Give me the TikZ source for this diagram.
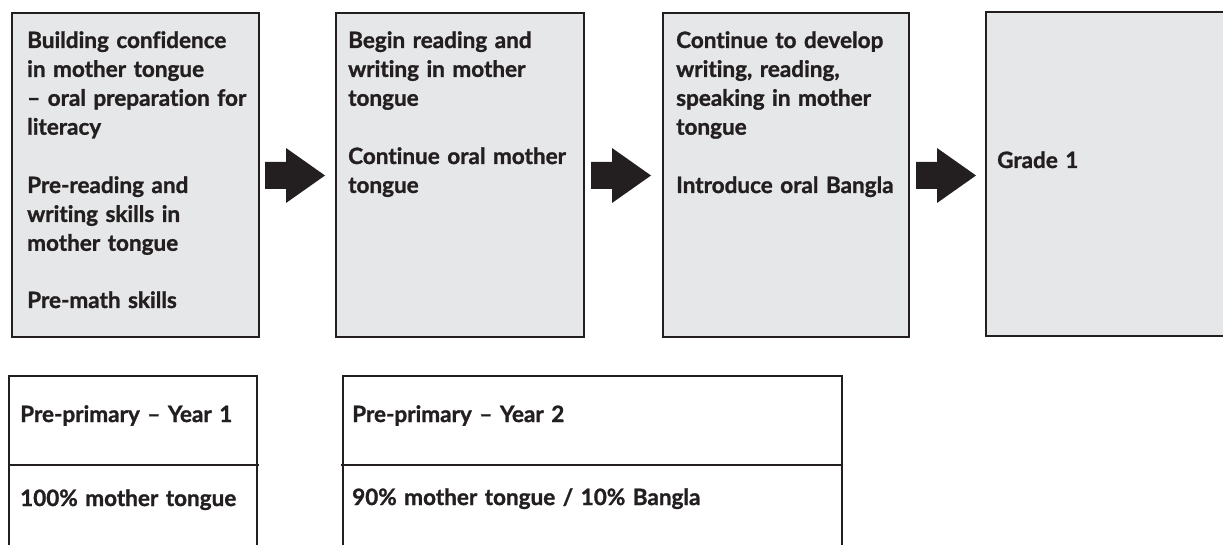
\documentclass[tikz,border=0pt]{standalone}
\usepackage{fontspec}
\setmainfont{Lato}[Ligatures=NoCommon, BoldFeatures={FakeBold=1.2}]
\definecolor{boxfill}{HTML}{E6E7E8}
\definecolor{ink}{HTML}{231F20}
\newcommand\blockarrow[1]{%
  \fill[ink, shift={(#1,0)}] (0,162) -- (21,162) -- (21,148) -- (60,175.5) -- (21,203) -- (21,189) -- (0,189) -- cycle;}
\begin{document}
\begin{tikzpicture}[x=1pt,y=-1pt,
  stagebox/.style={draw=ink, fill=boxfill, line width=2pt, inner sep=0pt, anchor=north west},
  lbl/.style={text=ink, font=\bfseries\fontsize{22.5}{28.9}\selectfont, align=left, text width=600pt, inner sep=0pt, anchor=base west},
  frame/.style={draw=ink, line width=2pt}]
\useasboundingbox (0,0) rectangle (1223,545);
% stage boxes
\node[stagebox, minimum width=247pt, minimum height=324pt] (s1) at (11,12) {};
\node[stagebox, minimum width=248pt, minimum height=324pt] (s2) at (335,12) {};
\node[stagebox, minimum width=246pt, minimum height=324pt] (s3) at (662,12) {};
\node[fill=boxfill, inner sep=0pt, anchor=north west, minimum width=240pt, minimum height=324pt] (s4) at (986,12) {};
\draw[frame] (s4.north east) -- (s4.north west) -- (s4.south west) -- (s4.south east);
% texts in stage boxes
\node[lbl] (t1a) at (27,48) {Building confidence\\in mother tongue\\– oral preparation for\\literacy};
\node[lbl] (t1b) at (27,193) {Pre-reading and\\writing skills in\\mother tongue};
\node[lbl] (t1c) at (27,308) {Pre-math skills};
\node[lbl] (t2a) at (348,48) {Begin reading and\\writing in mother\\tongue};
\node[lbl] (t2b) at (348,164) {Continue oral mother\\tongue};
\node[lbl] (t3a) at (676,48) {Continue to develop\\writing, reading,\\speaking in mother\\tongue};
\node[lbl] (t3b) at (676,193) {Introduce oral Bangla};
\node[lbl] (t4) at (997,168) {Grade 1};
% arrows
\blockarrow{265}
\blockarrow{591}
\blockarrow{916}
% bottom tables
\coordinate (aTL) at (9,376); \coordinate (aTR) at (257,376);
\coordinate (aBL) at (9,550); \coordinate (aBR) at (257,550);
\draw[frame] (aBL) -- (aTL) -- (aTR) -- (aBR);
\draw[frame] (9,465) -- (259,465);
\coordinate (bTL) at (343,376); \coordinate (bTR) at (842,376);
\coordinate (bBL) at (343,550); \coordinate (bBR) at (842,550);
\draw[frame] (bBL) -- (bTL) -- (bTR) -- (bBR);
\draw[frame] (341,465) -- (842,465);
\node[lbl] (pa) at (20,422) {Pre-primary – Year 1};
\node[lbl] (ma) at (20,506) {100\% mother tongue};
\node[lbl] (pb) at (352,422) {Pre-primary – Year 2};
\node[lbl] (mb) at (352,505) {90\% mother tongue / 10\% Bangla};
\end{tikzpicture}
\end{document}
